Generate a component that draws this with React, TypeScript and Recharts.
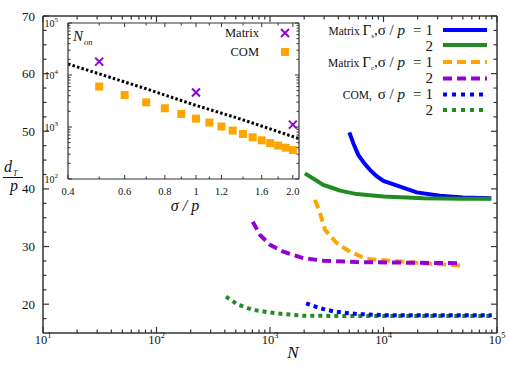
import React from "react";
import { ComposedChart, LineChart, Line, Scatter, XAxis, YAxis } from "recharts";

const AXIS = "#333";
const FONT = '"Liberation Serif", "Times New Roman", serif';
const BLUE = "#0000ff";
const GREEN = "#228b22";
const ORANGE = "#ffa500";
const PURPLE = "#9400d3";

// main plot: d_T / p against N, pairs of [N, d_T/p]
const gsSigma1: [number, number][] = [
  [5000, 49.8], [5500, 47.6], [6000, 45.9], [6800, 44.4], [7600, 43.3], [8700, 42.2],
  [10000, 41.4], [14000, 40.4], [19600, 39.4], [31500, 38.8], [50000, 38.5], [89000, 38.4],
];
const gsSigma2: [number, number][] = [
  [2030, 42.7], [2500, 41.6], [2950, 40.7], [3500, 40.2], [4140, 39.7], [5800, 39.1],
  [10000, 38.7], [22400, 38.4], [50000, 38.3], [89000, 38.3],
];
const gcSigma1: [number, number][] = [
  [2490, 38.1], [2760, 35.8], [3050, 32.9], [3870, 30.6], [5070, 29.1], [7100, 27.85],
  [11400, 27.55], [22400, 27.1], [49000, 26.7],
];
const gcSigma2: [number, number][] = [
  [705, 34.3], [817, 32.0], [1000, 30.3], [1310, 29.1], [1960, 28.0], [2950, 27.55],
  [5800, 27.3], [15900, 27.2], [49000, 27.1],
];
const comSigma1: [number, number][] = [
  [2080, 20.15], [2760, 19.3], [3740, 18.7], [5800, 18.3], [10000, 18.1], [30000, 18.1], [90000, 18.1],
];
const comSigma2: [number, number][] = [
  [409, 21.3], [525, 19.9], [713, 19.0], [1145, 18.4], [1960, 18.0], [5000, 17.95], [90000, 17.95],
];

const nDecades = [10, 100, 1000, 10000, 100000];
const minorMult = [2, 3, 4, 5, 6, 7, 8, 9];
const nTicks = [...nDecades, ...nDecades.slice(0, 4).flatMap((d) => minorMult.map((m) => d * m))];
const dTicks = [17.5, 20, 22.5, 25, 27.5, 30, 32.5, 35, 37.5, 40, 42.5, 45, 47.5, 50, 52.5, 55, 57.5, 60, 62.5, 65, 67.5, 70];
const dLabels = [20, 30, 40, 50, 60, 70];

// inset: N_on against sigma / p
const sigmaMatrix = [0.5, 1.0, 2.0];
const nonMatrix = [18100, 4600, 1110];
const sigmaCom = [0.5, 0.6, 0.7, 0.8, 0.9, 1.0, 1.1, 1.2, 1.3, 1.4, 1.5, 1.6, 1.7, 1.8, 1.9, 2.0];
const nonCom = [5990, 4120, 2980, 2290, 1780, 1450, 1215, 1020, 855, 735, 635, 555, 490, 440, 400, 360];
const sigmaFit = [0.4, 0.7, 1.0, 1.4, 2.09];
const nonFit = [16300, 5430, 2600, 1375, 596];

const sigmaTicks = [0.4, 0.5, 0.6, 0.7, 0.8, 0.9, 1.0, 1.1, 1.2, 1.4, 1.6, 1.8, 2.0];
const sigmaLabels: Record<string, string> = { "0.4": "0.4", "0.6": "0.6", "0.8": "0.8", "1": "1", "1.2": "1.2", "1.6": "1.6", "2": "2.0" };
const nonDecades = [100, 1000, 10000, 100000];
const nonTicks = [...nonDecades, ...nonDecades.slice(0, 3).flatMap((d) => minorMult.map((m) => d * m))];

const pts = (a: [number, number][]) => a.map(([n, v]) => ({ n, v }));
const zip = (s: number[], n: number[]) => s.map((x, i) => ({ s: x, n: n[i] }));
const exp10 = (v: number) => Math.round(Math.log10(v));

const MainXBottom = ({ x, y, payload }: any) => {
  const major = nDecades.includes(payload.value);
  return (
    <g>
      <line x1={x} x2={x} y1={y} y2={y - (major ? 6 : 3.5)} stroke={AXIS} strokeWidth={1.2} />
      {major && (
        <text x={x} y={y + 11} textAnchor="middle" fontSize={12.5} fill="#111" fontFamily={FONT}>
          10<tspan dy={-6} fontSize={8.5}>{exp10(payload.value)}</tspan>
        </text>
      )}
    </g>
  );
};
const MainXTop = ({ x, y, payload }: any) => {
  const major = nDecades.includes(payload.value);
  return <line x1={x} x2={x} y1={y} y2={y + (major ? 6 : 3.5)} stroke={AXIS} strokeWidth={1.2} />;
};
const MainYLeft = ({ x, y, payload }: any) => {
  const major = dLabels.includes(payload.value);
  return (
    <g>
      <line x1={x} x2={x + (major ? 6 : 3.5)} y1={y} y2={y} stroke={AXIS} strokeWidth={1.2} />
      {major && (
        <text x={x - 8} y={y + 4.5} textAnchor="end" fontSize={13} fill="#111" fontFamily={FONT}>
          {payload.value}
        </text>
      )}
    </g>
  );
};
const MainYRight = ({ x, y, payload }: any) => {
  const major = dLabels.includes(payload.value);
  return <line x1={x} x2={x - (major ? 6 : 3.5)} y1={y} y2={y} stroke={AXIS} strokeWidth={1.2} />;
};

const InsetXBottom = ({ x, y, payload }: any) => {
  const label = sigmaLabels[String(payload.value)];
  return (
    <g>
      <line x1={x} x2={x} y1={y} y2={y - (label ? 4 : 2.5)} stroke={AXIS} />
      {label && (
        <text x={x} y={y + 16} textAnchor="middle" fontSize={10.5} fill="#111" fontFamily={FONT}>
          {label}
        </text>
      )}
    </g>
  );
};
const InsetXTop = ({ x, y, payload }: any) => {
  const label = sigmaLabels[String(payload.value)];
  return <line x1={x} x2={x} y1={y} y2={y + (label ? 4 : 2.5)} stroke={AXIS} />;
};
const InsetYLeft = ({ x, y, payload }: any) => {
  const major = nonDecades.includes(payload.value);
  return (
    <g>
      <line x1={x} x2={x + (major ? 4 : 2.5)} y1={y} y2={y} stroke={AXIS} />
      {major && (
        <text x={x - 10} y={y + 4} textAnchor="end" fontSize={10} fill="#111" fontFamily={FONT}>
          10<tspan dy={-5} fontSize={7}>{exp10(payload.value)}</tspan>
        </text>
      )}
    </g>
  );
};
const InsetYRight = ({ x, y, payload }: any) => {
  const major = nonDecades.includes(payload.value);
  return <line x1={x} x2={x - (major ? 4 : 2.5)} y1={y} y2={y} stroke={AXIS} />;
};

const CrossMark = ({ cx, cy }: any) => (
  <path d={`M${cx - 4},${cy - 4}L${cx + 4},${cy + 4}M${cx - 4},${cy + 4}L${cx + 4},${cy - 4}`} stroke={PURPLE} strokeWidth={2} />
);
const SquareMark = ({ cx, cy }: any) => <rect x={cx - 4} y={cy - 4} width={8} height={8} fill={ORANGE} />;

const axisLine = { stroke: AXIS, strokeWidth: 1.5 };
const insetLine = { stroke: AXIS, strokeWidth: 1.2 };

export default function App() {
  const lineProps = { xAxisId: "b", yAxisId: "l", dataKey: "v", dot: false, type: "linear" as const, isAnimationActive: false };
  return (
    <div style={{ position: "absolute", left: 0, top: 0, width: 508, height: 381, background: "#fff", fontFamily: FONT }}>
      <div style={{ position: "absolute", left: 0, top: 0 }}>
        <LineChart width={508} height={381} margin={{ top: 15, right: 10, bottom: 18, left: 0 }}>
          <XAxis xAxisId="b" dataKey="n" type="number" scale="log" domain={[10, 100000]} allowDataOverflow ticks={nTicks}
            interval={0} tickSize={0} tickMargin={0} height={30} axisLine={axisLine} tickLine={false} tick={<MainXBottom />} />
          <XAxis xAxisId="t" orientation="top" dataKey="n" type="number" scale="log" domain={[10, 100000]} allowDataOverflow ticks={nTicks}
            interval={0} tickSize={0} tickMargin={0} height={1} axisLine={axisLine} tickLine={false} tick={<MainXTop />} />
          <YAxis yAxisId="l" type="number" domain={[15, 70]} allowDataOverflow ticks={dTicks} interval={0} tickSize={0} tickMargin={0}
            width={43} axisLine={axisLine} tickLine={false} tick={<MainYLeft />} />
          <YAxis yAxisId="r" orientation="right" type="number" domain={[15, 70]} allowDataOverflow ticks={dTicks} interval={0} tickSize={0}
            tickMargin={0} width={1} axisLine={axisLine} tickLine={false} tick={<MainYRight />} />
          <Line {...lineProps} data={pts(gsSigma1)} stroke={BLUE} strokeWidth={4} />
          <Line {...lineProps} data={pts(gsSigma2)} stroke={GREEN} strokeWidth={4} />
          <Line {...lineProps} data={pts(gcSigma1)} stroke={ORANGE} strokeWidth={4} strokeDasharray="9 5" />
          <Line {...lineProps} data={pts(gcSigma2)} stroke={PURPLE} strokeWidth={4} strokeDasharray="9 5" />
          <Line {...lineProps} data={pts(comSigma2)} stroke={GREEN} strokeWidth={4} strokeDasharray="4 4" />
          <Line {...lineProps} data={pts(comSigma1)} stroke={BLUE} strokeWidth={4} strokeDasharray="4 4" />
        </LineChart>
      </div>
      <div style={{ position: "absolute", left: 0, top: 0 }}>
        <ComposedChart width={320} height={220} margin={{ top: 22, right: 20, bottom: 40, left: 0 }}>
          <XAxis xAxisId="b" dataKey="s" type="number" scale="log" domain={[0.4, 2.09]} allowDataOverflow ticks={sigmaTicks}
            interval={0} tickSize={0} tickMargin={0} height={1} axisLine={insetLine} tickLine={false} tick={<InsetXBottom />} />
          <XAxis xAxisId="t" orientation="top" dataKey="s" type="number" scale="log" domain={[0.4, 2.09]} allowDataOverflow ticks={sigmaTicks}
            interval={0} tickSize={0} tickMargin={0} height={1} axisLine={insetLine} tickLine={false} tick={<InsetXTop />} />
          <YAxis yAxisId="l" dataKey="n" type="number" scale="log" domain={[100, 100000]} allowDataOverflow ticks={nonTicks}
            interval={0} tickSize={0} tickMargin={0} width={68} axisLine={insetLine} tickLine={false} tick={<InsetYLeft />} />
          <YAxis yAxisId="r" orientation="right" dataKey="n" type="number" scale="log" domain={[100, 100000]} allowDataOverflow
            ticks={nonTicks} interval={0} tickSize={0} tickMargin={0} width={1} axisLine={insetLine} tickLine={false} tick={<InsetYRight />} />
          <Line xAxisId="b" yAxisId="l" data={zip(sigmaFit, nonFit)} dataKey="n" type="linear" dot={false} stroke="#000"
            strokeWidth={3} strokeDasharray="2.5 2.2" isAnimationActive={false} />
          <Scatter xAxisId="b" yAxisId="l" data={zip(sigmaCom, nonCom)} shape={<SquareMark />} isAnimationActive={false} />
          <Scatter xAxisId="b" yAxisId="l" data={zip(sigmaMatrix, nonMatrix)} shape={<CrossMark />} isAnimationActive={false} />
        </ComposedChart>
      </div>
      <svg width={508} height={381} style={{ position: "absolute", left: 0, top: 0 }} fontFamily={FONT} fill="#111">
        {/* main axis titles */}
        <text x={293} y={358} textAnchor="middle" fontSize={17} fontStyle="italic">N</text>
        <text x={4} y={172} fontSize={16} fontStyle="italic">d</text>
        <text x={13} y={176} fontSize={8} fontStyle="italic">T</text>
        <line x1={3} x2={23} y1={177.5} y2={177.5} stroke="#111" strokeWidth={1} />
        <text x={10} y={191} fontSize={16} fontStyle="italic">p</text>
        {/* inset titles */}
        <text x={73} y={41} fontSize={15} fontStyle="italic">N</text>
        <text x={84} y={45} fontSize={8.5} fontStyle="italic">on</text>
        <text x={185} y={211} textAnchor="middle" fontSize={16} fontStyle="italic">
          σ<tspan dx={4}>/</tspan><tspan dx={4}>p</tspan>
        </text>
        {/* inset legend */}
        <text x={259} y={37} textAnchor="end" fontSize={12.5}>Matrix</text>
        <CrossMark cx={285} cy={33} />
        <text x={259} y={56} textAnchor="end" fontSize={12.5}>COM</text>
        <SquareMark cx={285} cy={52} />
        {/* main legend */}
        <text x={433} y={35} textAnchor="end" fontSize={15}>
          <tspan fontSize={11.5}>Matrix </tspan>Γ<tspan fontSize={7} dy={3}>s</tspan><tspan dy={-3}>,σ / </tspan>
          <tspan fontStyle="italic">p</tspan><tspan dx={8}>=</tspan><tspan dx={4}>1</tspan>
        </text>
        <text x={433} y={50.5} textAnchor="end" fontSize={15}>2</text>
        <text x={433} y={66.5} textAnchor="end" fontSize={15}>
          <tspan fontSize={11.5}>Matrix </tspan>Γ<tspan fontSize={7} dy={3}>c</tspan><tspan dy={-3}>,σ / </tspan>
          <tspan fontStyle="italic">p</tspan><tspan dx={8}>=</tspan><tspan dx={4}>1</tspan>
        </text>
        <text x={433} y={83} textAnchor="end" fontSize={15}>2</text>
        <text x={433} y={98.5} textAnchor="end" fontSize={15}>
          <tspan fontSize={11.5}>COM, </tspan><tspan dx={3}>σ / </tspan>
          <tspan fontStyle="italic">p</tspan><tspan dx={8}>=</tspan><tspan dx={4}>1</tspan>
        </text>
        <text x={433} y={115} textAnchor="end" fontSize={15}>2</text>
        <line x1={443} x2={487} y1={30} y2={30} stroke={BLUE} strokeWidth={4} />
        <line x1={443} x2={487} y1={45} y2={45} stroke={GREEN} strokeWidth={4} />
        <line x1={443} x2={487} y1={62} y2={62} stroke={ORANGE} strokeWidth={4} strokeDasharray="9 5" />
        <line x1={443} x2={487} y1={78.5} y2={78.5} stroke={PURPLE} strokeWidth={4} strokeDasharray="9 5" />
        <line x1={443} x2={484} y1={94.5} y2={94.5} stroke={BLUE} strokeWidth={4} strokeDasharray="4 5" />
        <line x1={443} x2={484} y1={110} y2={110} stroke={GREEN} strokeWidth={4} strokeDasharray="4 5" />
      </svg>
    </div>
  );
}
